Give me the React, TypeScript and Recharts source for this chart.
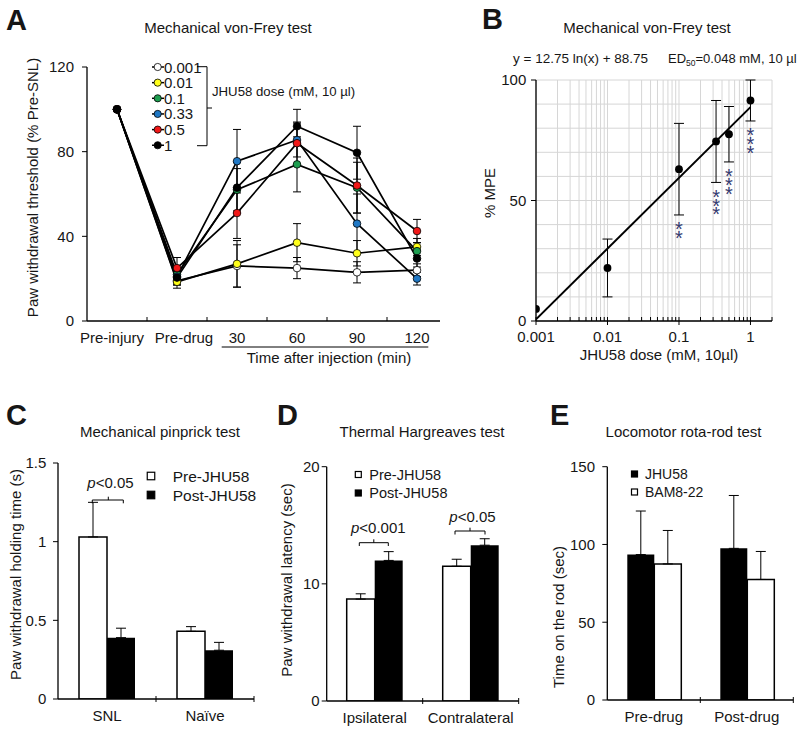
import React from 'react';
import {
  LineChart,
  Line,
  ComposedChart,
  Scatter,
  BarChart,
  Bar,
  XAxis,
  YAxis,
  CartesianGrid,
  ErrorBar,
  Legend,
} from 'recharts';

const FONT = '"Liberation Sans", Arial, Helvetica, sans-serif';
const INK = '#161616';
const STAR = '#343a70';

// A: von-Frey time course (% of pre-SNL threshold), one series per dose
const timeLabels = ['Pre-injury', 'Pre-drug', '30', '60', '90', '120'];
const timeLabelNudge = [-5, 7, 0, 0, 0, 0];
const doseLabels = ['0.001', '0.01', '0.1', '0.33', '0.5', '1'];
const doseColors = ['#ffffff', '#ffff1a', '#1e9e50', '#1f77c4', '#f01818', '#000000'];
const pwt0001 = [100, 19, 26, 25, 23, 24];
const pwt001 = [100, 18.5, 27, 37, 32, 35];
const pwt01 = [100, 22, 62, 74, 63, 33];
const pwt033 = [100, 21, 75.5, 85.5, 46, 20];
const pwt05 = [100, 25, 51, 84, 64, 42.5];
const pwt1 = [100, 20.5, 63, 92, 79.5, 29.5];
const sem0001 = [0, 2, 10, 5, 5, 3];
const sem001 = [0, 3, 11, 9, 6, 4];
const sem01 = [0, 3, 10, 13, 12, 4];
const sem033 = [0, 4, 15, 8, 14, 3];
const sem05 = [0, 5, 12, 10, 13, 5.5];
const sem1 = [0, 3, 12, 8, 12.5, 4];
const pwtSeries = [pwt0001, pwt001, pwt01, pwt033, pwt05, pwt1];
const semSeries = [sem0001, sem001, sem01, sem033, sem05, sem1];

// B: dose-response (% MPE)
const doseB = [0.001, 0.01, 0.1, 0.33, 0.5, 1];
const mpeB = [5, 22, 63, 74.5, 77.5, 91.5];
const mpeErrB = [0, 12, 19, 17, 11.5, 8.5];
const starsB = ['', '', '**', '***', '***', '***'];
const fitDoseB = [0.001, 1];
const fitMpeB = [0.7, 88.75];
const logTicksB = [
  0.001, 0.002, 0.003, 0.004, 0.005, 0.006, 0.007, 0.008, 0.009,
  0.01, 0.02, 0.03, 0.04, 0.05, 0.06, 0.07, 0.08, 0.09,
  0.1, 0.2, 0.3, 0.4, 0.5, 0.6, 0.7, 0.8, 0.9,
  1, 2,
];
const majorTicksB = [0.001, 0.01, 0.1, 1];
const mpeTicksB = [0, 10, 20, 30, 40, 50, 60, 70, 80, 90, 100];

// C: pinprick
const groupsC = ['SNL', 'Naïve'];
const preC = [1.03, 0.43];
const preErrC = [0.22, 0.03];
const postC = [0.39, 0.31];
const postErrC = [0.06, 0.05];

// D: Hargreaves
const groupsD = ['Ipsilateral', 'Contralateral'];
const preD = [8.7, 11.5];
const preErrD = [0.45, 0.6];
const postD = [12.0, 13.3];
const postErrD = [0.75, 0.55];

// E: rota-rod
const groupsE = ['Pre-drug', 'Post-drug'];
const jhuE = [93.5, 97.5];
const jhuErrE = [28, 34];
const bamE = [87.5, 77.5];
const bamErrE = [21.5, 18];

const dataA = timeLabels.map((t, i) => {
  const row: Record<string, string | number> = { time: t };
  pwtSeries.forEach((s, k) => {
    row[`d${k}`] = s[i];
    row[`e${k}`] = semSeries[k][i];
  });
  return row;
});

const pointsB = doseB.map((d, i) => ({ dose: d, y: mpeB[i], err: mpeErrB[i] }));
const fitB = fitDoseB.map((d, i) => ({ dose: d, y: fitMpeB[i] }));
const starAnchorsB = doseB
  .map((d, i) => ({ dose: d, y: mpeB[i] - mpeErrB[i], stars: starsB[i] }))
  .filter((s) => s.stars);

const pairRows = (groups: string[], a: number[], aErr: number[], b: number[], bErr: number[]) =>
  groups.map((g, i) => ({ group: g, a: a[i], aErr: [0, aErr[i]], b: b[i], bErr: [0, bErr[i]] }));

const dataC = pairRows(groupsC, preC, preErrC, postC, postErrC);
const dataD = pairRows(groupsD, preD, preErrD, postD, postErrD);
const dataE = pairRows(groupsE, jhuE, jhuErrE, bamE, bamErrE);

const axisStyle = { stroke: '#000', strokeWidth: 1.3 };

const TimeTick = (p: any) => {
  const idx = timeLabels.indexOf(p.payload.value);
  const last = idx === timeLabels.length - 1;
  return (
    <g>
      {!last && <line x1={p.x + 30} x2={p.x + 30} y1={p.y} y2={p.y - 4} stroke="#000" />}
      <text x={p.x + (timeLabelNudge[idx] || 0)} y={p.y + 22} textAnchor="middle" fontSize={15} fill={INK}>
        {p.payload.value}
      </text>
    </g>
  );
};

const DoseTick = (p: any) => {
  const v = p.payload.value;
  const major = majorTicksB.includes(v);
  return (
    <g>
      <line x1={p.x} x2={p.x} y1={p.y - 4} y2={major ? p.y + 4 : p.y} stroke="#000" />
      {major && (
        <text x={p.x} y={p.y + 21} textAnchor="middle" fontSize={15} fill={INK}>
          {v}
        </text>
      )}
    </g>
  );
};

const MpeTick = (p: any) => {
  const v = p.payload.value;
  if (v % 50 !== 0) return <g />;
  return (
    <g>
      <line x1={p.x - 5} x2={p.x} y1={p.y} y2={p.y} stroke="#000" />
      <text x={p.x - 9.7} y={p.y} dy="0.36em" textAnchor="end" fontSize={15} fill={INK}>
        {v}
      </text>
    </g>
  );
};

const makeBandTick = (band: number) => (p: any) => (
  <g>
    <line x1={p.x + band / 2} x2={p.x + band / 2} y1={p.y - 3} y2={p.y + 3} stroke="#000" />
    <text x={p.x} y={p.y + 22} textAnchor="middle" fontSize={15} fill={INK}>
      {p.payload.value}
    </text>
  </g>
);

const NoMark = () => <g />;
const BlackDot = (p: any) => <circle cx={p.cx} cy={p.cy} r={3.9} fill="#000" />;
// significance stars stacked vertically under the lower end of the error bar
const StarStack = (p: any) => (
  <text x={p.cx} y={p.cy + 21.5} textAnchor="middle" fontSize={20} fill={STAR}>
    {p.payload.stars.split('').map((s: string, i: number) => (
      <tspan key={i} x={p.cx} dy={i === 0 ? 0 : 8.7}>
        {s}
      </tspan>
    ))}
  </text>
);

const legendA = () => (
  <svg width={460} height={370}>
    {doseLabels.map((d, i) => {
      const y = 67 + i * 15.65;
      return (
        <g key={d}>
          <line x1={152} x2={164} y1={y} y2={y} stroke="#000" strokeWidth={1.5} />
          <circle cx={157.7} cy={y} r={3.6} fill={doseColors[i]} stroke="#000" strokeWidth={0.8} />
          <text x={164} y={y + 5.5} fontSize={15} fill={INK}>{d}</text>
        </g>
      );
    })}
    <path d="M197,66.7 H207 V145.7 H197 M207,108 H212" fill="none" stroke="#000" strokeWidth={1} />
    <text x={212} y={96} fontSize={13.2} fill={INK}>JHU58 dose (mM, 10 µl)</text>
  </svg>
);

type LegendRow = { label: string; fill: string };
const squareLegend = (rows: LegendRow[], cx: number, cy0: number, gap: number, size: number, textX: number, fontSize: number) => () => (
  <svg width={270} height={365}>
    {rows.map((r, i) => (
      <g key={r.label}>
        <rect x={cx - size / 2} y={cy0 + i * gap - size / 2} width={size} height={size} fill={r.fill} stroke="#000" strokeWidth={1.2} />
        <text x={textX} y={cy0 + i * gap + fontSize * 0.36} fontSize={fontSize} fill={INK}>{r.label}</text>
      </g>
    ))}
  </svg>
);

type BarPanelProps = {
  left: number;
  data: any[];
  margin: { top: number; right: number; bottom: number; left: number };
  domain: [number, number];
  ticks: number[];
  tickMargin: number;
  barSize: number;
  fillA: string;
  fillB: string;
  legend: () => React.ReactElement;
};

const BarPanel = ({ left, data, margin, domain, ticks, tickMargin, barSize, fillA, fillB, legend }: BarPanelProps) => {
  const width = 270;
  const yw = 40;
  const band = (width - margin.left - margin.right - yw) / data.length;
  const barStyle = (fill: string) => (fill === '#fff' ? { fill, stroke: '#000', strokeWidth: 1.5 } : { fill, stroke: 'none' });
  return (
    <div style={{ position: 'absolute', left, top: 370 }}>
      <BarChart width={width} height={365} data={data} margin={margin} barSize={barSize} barGap={0}>
        <XAxis dataKey="group" height={30} axisLine={axisStyle} tickLine={false} tickSize={0} tickMargin={0} interval={0} tick={makeBandTick(band)} />
        <YAxis width={yw} domain={domain} ticks={ticks} allowDataOverflow axisLine={axisStyle} tickLine={{ stroke: '#000' }} tickSize={5} tickMargin={tickMargin} tick={{ fontSize: 15, fill: INK }} />
        <Bar dataKey="a" {...barStyle(fillA)} isAnimationActive={false}>
          <ErrorBar dataKey="aErr" width={5} stroke="#000" strokeWidth={1} direction="y" />
        </Bar>
        <Bar dataKey="b" {...barStyle(fillB)} isAnimationActive={false}>
          <ErrorBar dataKey="bErr" width={5} stroke="#000" strokeWidth={1} direction="y" />
        </Bar>
        <Legend verticalAlign="middle" align="center" content={legend} wrapperStyle={{ left: 0, top: 0, width: 270, height: 365, pointerEvents: 'none' }} />
      </BarChart>
    </div>
  );
};

const txt = { fill: INK, fontFamily: FONT } as const;

export default function App() {
  return (
    <div style={{ position: 'absolute', left: 0, top: 0, width: 800, height: 735, background: '#fff', fontFamily: FONT }}>
      <div style={{ position: 'absolute', left: 0, top: 0 }}>
        <LineChart width={460} height={370} data={dataA} margin={{ top: 67, right: 20, bottom: 19, left: 37 }}>
          <XAxis dataKey="time" padding={{ left: 30, right: 23 }} height={30} axisLine={axisStyle} tickLine={false} tickSize={0} tickMargin={0} interval={0} tick={TimeTick} />
          <YAxis width={50} domain={[0, 120]} ticks={[0, 40, 80, 120]} axisLine={axisStyle} tickLine={{ stroke: '#000' }} tickSize={5} tickMargin={8} tick={{ fontSize: 15, fill: INK }} />
          {doseLabels.map((d, k) => (
            <Line
              key={d}
              name={d}
              dataKey={`d${k}`}
              stroke="#000"
              strokeWidth={1.7}
              dot={{ r: 3.8, fill: doseColors[k], stroke: '#000', strokeWidth: 0.8 }}
              isAnimationActive={false}
            >
              <ErrorBar dataKey={`e${k}`} width={4} stroke="#000" strokeWidth={1} direction="y" />
            </Line>
          ))}
          <Legend verticalAlign="middle" align="center" content={legendA} wrapperStyle={{ left: 0, top: 0, width: 460, height: 370, pointerEvents: 'none' }} />
        </LineChart>
      </div>

      <div style={{ position: 'absolute', left: 440, top: 0 }}>
        <ComposedChart width={360} height={370} margin={{ top: 80, right: 28, bottom: 19, left: 56 }}>
          <CartesianGrid stroke="#d6d6d6" strokeWidth={1} />
          <XAxis type="number" dataKey="dose" scale="log" domain={[0.001, 2]} allowDataOverflow ticks={logTicksB} interval={0} height={30} axisLine={axisStyle} tickLine={false} tickSize={0} tickMargin={0} tick={DoseTick} />
          <YAxis type="number" dataKey="y" domain={[0, 100]} allowDataOverflow ticks={mpeTicksB} interval={0} width={40} axisLine={axisStyle} tickLine={false} tickSize={0} tickMargin={0} tick={MpeTick} />
          <Scatter data={fitB} line={{ stroke: '#000', strokeWidth: 2 }} shape={NoMark} isAnimationActive={false} />
          <Scatter data={pointsB} shape={BlackDot} isAnimationActive={false}>
            <ErrorBar dataKey="err" width={5} stroke="#000" strokeWidth={1} direction="y" />
          </Scatter>
          <Scatter data={starAnchorsB} shape={StarStack} isAnimationActive={false} />
        </ComposedChart>
      </div>

      <BarPanel
        left={0}
        data={dataC}
        margin={{ top: 93, right: 16, bottom: 6, left: 18 }}
        domain={[0, 1.5]}
        ticks={[0, 0.5, 1, 1.5]}
        tickMargin={6.6}
        barSize={28}
        fillA="#fff"
        fillB="#000"
        legend={squareLegend([{ label: 'Pre-JHU58', fill: '#fff' }, { label: 'Post-JHU58', fill: '#000' }], 151, 106, 19, 7.5, 172.7, 15.5)}
      />
      <BarPanel
        left={270}
        data={dataD}
        margin={{ top: 96.7, right: 21.3, bottom: 4, left: 16.7 }}
        domain={[0, 20]}
        ticks={[0, 10, 20]}
        tickMargin={2}
        barSize={28}
        fillA="#fff"
        fillB="#000"
        legend={squareLegend([{ label: 'Pre-JHU58', fill: '#fff' }, { label: 'Post-JHU58', fill: '#000' }], 88.3, 104.5, 18.5, 6, 99.3, 14.5)}
      />
      <BarPanel
        left={530}
        data={dataE}
        margin={{ top: 96.7, right: 6.7, bottom: 5, left: 37.3 }}
        domain={[0, 150]}
        ticks={[0, 50, 100, 150]}
        tickMargin={7.3}
        barSize={27}
        fillA="#000"
        fillB="#fff"
        legend={squareLegend([{ label: 'JHU58', fill: '#000' }, { label: 'BAM8-22', fill: '#fff' }], 104.5, 104, 18, 6, 115, 14)}
      />

      <svg width={800} height={735} style={{ position: 'absolute', left: 0, top: 0, pointerEvents: 'none' }}>
        <g fontWeight="bold" fontSize={29} style={txt}>
          <text x={6} y={30}>A</text>
          <text x={482} y={28.5}>B</text>
          <text x={6} y={425}>C</text>
          <text x={277} y={425}>D</text>
          <text x={550} y={425}>E</text>
        </g>
        <g fontSize={15} textAnchor="middle" style={{ ...txt, whiteSpace: 'pre' }}>
          <text x={228} y={33}>Mechanical von-Frey  test</text>
          <text x={647} y={33}>Mechanical von-Frey  test</text>
          <text x={160} y={437}>Mechanical pinprick test</text>
          <text x={422} y={437}>Thermal Hargreaves test</text>
          <text x={683.5} y={437}>Locomotor rota-rod test</text>
        </g>
        <g fontSize={13.5} style={{ ...txt, whiteSpace: 'pre' }}>
          <text x={513} y={63}>y = 12.75 ln(x) + 88.75</text>
          <text x={668} y={63} fontSize={13}>
            ED<tspan fontSize={8.5} dy={3}>50</tspan>
            <tspan dy={-3}>=0.048 mM, 10 µl</tspan>
          </text>
        </g>
        <g fontSize={15} textAnchor="middle" dominantBaseline="central" style={txt}>
          <text x={32.5} y={187.5} transform="rotate(-90 32.5 187.5)">Paw withdrawal threshold (% Pre-SNL)</text>
          <text x={489} y={193} transform="rotate(-90 489 193)">% MPE</text>
          <text x={15} y={574.5} transform="rotate(-90 15 574.5)">Paw withdrawal holding time (s)</text>
          <text x={286.5} y={580} transform="rotate(-90 286.5 580)">Paw withdrawal latency (sec)</text>
          <text x={558.3} y={617} transform="rotate(-90 558.3 617)">Time on the rod (sec)</text>
        </g>
        <g fontSize={15} textAnchor="middle" style={txt}>
          <text x={329} y={363}>Time after injection (min)</text>
          <text x={659} y={360}>JHU58 dose (mM, 10µl)</text>
          <text x={110.5} y={488}>
            <tspan fontStyle="italic">p</tspan>&lt;0.05
          </text>
          <text x={378.3} y={533.3}>
            <tspan fontStyle="italic">p</tspan>&lt;0.001
          </text>
          <text x={472.5} y={522.3}>
            <tspan fontStyle="italic">p</tspan>&lt;0.05
          </text>
        </g>
        <g fill="none" stroke="#000" strokeWidth={1}>
          <line x1={221.7} x2={428.3} y1={347} y2={347} />
          <path d="M92.3,503.3 V500 H123.3 V503.3 M108.3,500 V496.7" />
          <path d="M359.3,546 V542.7 H388.3 V546 M373.8,542.7 V539.3" />
          <path d="M455,534.5 V531 H485 V534.5 M470,531 V527.7" />
        </g>
      </svg>
    </div>
  );
}
